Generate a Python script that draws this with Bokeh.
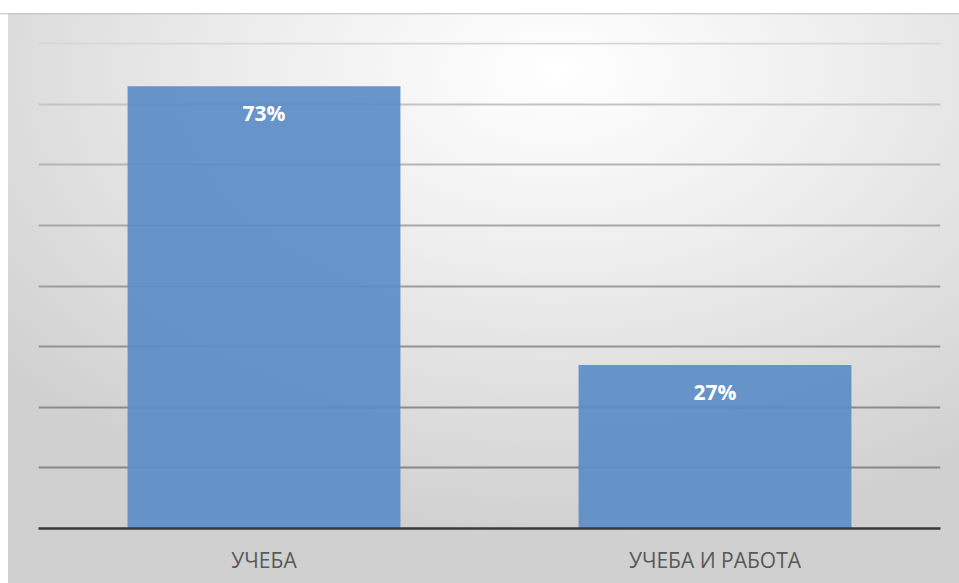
from bokeh.plotting import figure
from bokeh.models import FactorRange, Range1d, ColumnDataSource, LabelSet
from bokeh.embed import file_html
from bokeh.resources import INLINE
from bokeh.core.properties import value

categories = ["УЧЕБА", "УЧЕБА И РАБОТА"]
shares = [0.73, 0.27]
grid_ticks = [0.1, 0.2, 0.3, 0.4, 0.5, 0.6, 0.7, 0.8]

# styling: grid line shades, bottom to top (lighter towards the top, as in the reference)
grid_shades = ["#878787", "#8c8c8c", "#939393", "#9c9c9c", "#a7a7a7", "#b5b5b5", "#c4c4c4", "#d7d7d7"]

labels = [f"{round(v * 100)}%" for v in shares]
src = ColumnDataSource(dict(cat=categories, val=shares, lab=labels))
grid_src = ColumnDataSource(dict(y=grid_ticks, c=grid_shades))

p = figure(width=959, height=583,
           x_range=FactorRange(*categories), y_range=Range1d(0, 0.802),
           output_backend="svg", toolbar_location=None,
           min_border_left=38, min_border_right=19,
           min_border_top=42, min_border_bottom=55)

p.background_fill_color = None
p.border_fill_color = None
p.outline_line_color = None
p.styles = {"background": "linear-gradient(to bottom, #ffffff 13px, #bdbdbd 13px, rgba(210,210,210,0) 15px), "
                          "linear-gradient(to right, #ffffff 8px, rgba(255,255,255,0) 8px), "
                          "radial-gradient(ellipse 75% 80% at 58% 12%, #ffffff 0%, #eeeeee 40%, #d0d0d0 100%)"}

p.yaxis.visible = False
p.xgrid.grid_line_color = None
p.ygrid.grid_line_color = None

p.hspan(y="y", source=grid_src, line_color="c", line_width=2, level="underlay")

p.xaxis.axis_line_color = "#3a3a3a"
p.xaxis.axis_line_width = 2.5
p.xaxis.major_tick_line_color = None
p.xaxis.minor_tick_line_color = None
p.xaxis.major_tick_out = 0
p.xaxis.major_tick_in = 0
p.xaxis.major_label_text_font = "Open Sans"
p.xaxis.major_label_text_font_size = "21px"
p.xaxis.major_label_text_color = "#595959"
p.xaxis.major_label_standoff = 17

p.vbar(x="cat", top="val", width=0.605, source=src,
       fill_color="#5b8cc6", fill_alpha=0.92, line_color=None)

p.add_layout(LabelSet(x="cat", y="val", text="lab", source=src, y_offset=-27,
                      text_align="center", text_baseline="middle",
                      text_color="white", text_font_style="bold",
                      text_font_size="21px", text_font=value("Open Sans")))

open("out.html", "w").write(file_html(p, INLINE))
